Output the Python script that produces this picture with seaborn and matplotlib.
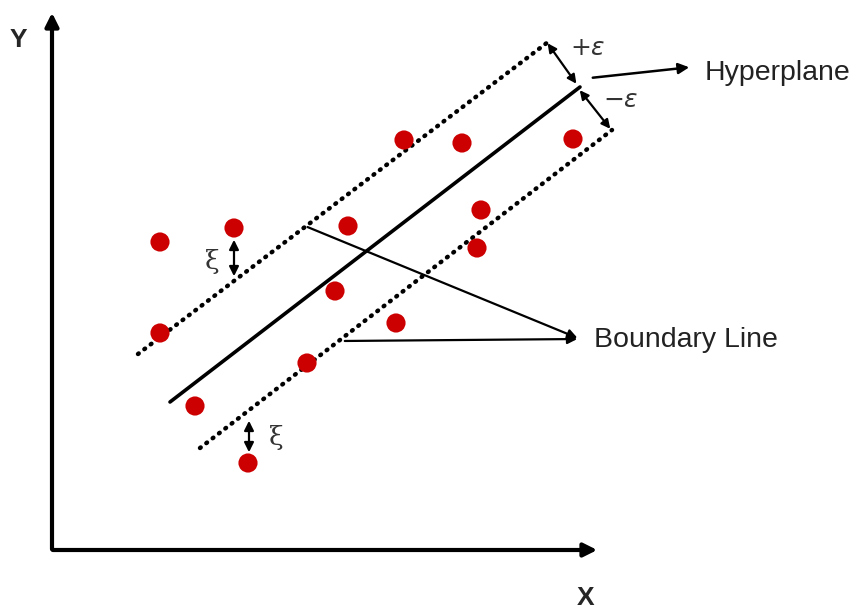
import numpy as np
import pandas as pd
import matplotlib
matplotlib.use('Agg')
import matplotlib.pyplot as plt
import seaborn as sns

# diagram laid out in pixel-like units (x right, y down)
pts_x = [160, 234, 160, 195, 248, 307, 335, 348, 396, 404, 462, 481, 477, 573]
pts_y = [242, 228, 333, 406, 463, 363, 291, 226, 323, 140, 143, 210, 248, 139]

hyper_x = [170, 580]
hyper_y = [402, 87]
upper_x = [138, 548]
upper_y = [354, 42]
lower_x = [200, 612]
lower_y = [448, 130]

sns.set_style('white')
plt.rcParams['font.family'] = ['Liberation Sans', 'DejaVu Sans']

fig = plt.figure(figsize=(8.53, 6.15), dpi=100)
ax = fig.add_axes([0, 0, 1, 1])

# axes arrows
ax.annotate('', xy=(52, 10), xytext=(52, 552),
            arrowprops=dict(arrowstyle='-|>', lw=3, color='black', mutation_scale=20))
ax.annotate('', xy=(600, 550), xytext=(50, 550),
            arrowprops=dict(arrowstyle='-|>', lw=3, color='black', mutation_scale=20))
ax.text(18, 40, 'Y', fontsize=19, fontweight='bold', ha='center', va='center')
ax.text(586, 598, 'X', fontsize=19, fontweight='bold', ha='center', va='center')

# hyperplane and margins
sns.lineplot(x=hyper_x, y=hyper_y, ax=ax, color='black', lw=2.6, sort=False)
for lx, ly in [(upper_x, upper_y), (lower_x, lower_y)]:
    ax.plot(lx, ly, color='black', lw=3.2, linestyle=(0, (0.2, 1.6)),
            dash_capstyle='round')

# epsilon arrows
ax.annotate('', xy=(546, 41), xytext=(578, 86),
            arrowprops=dict(arrowstyle='<|-|>', lw=1.6, color='black', mutation_scale=13))
ax.annotate('', xy=(612, 131), xytext=(578, 88),
            arrowprops=dict(arrowstyle='<|-|>', lw=1.6, color='black', mutation_scale=13))
ax.text(570, 48, r'$+\varepsilon$', fontsize=18, color='#333333', va='center')
ax.text(603, 100, r'$-\varepsilon$', fontsize=18, color='#333333', va='center')

ax.annotate('', xy=(692, 67), xytext=(590, 78),
            arrowprops=dict(arrowstyle='-|>', lw=1.8, color='black', mutation_scale=16))
ax.text(705, 73, 'Hyperplane', fontsize=20.5, color='#222222', va='center')

# boundary line pointers
ax.annotate('', xy=(580, 339), xytext=(305, 226),
            arrowprops=dict(arrowstyle='-|>', lw=1.6, color='black', mutation_scale=14))
ax.annotate('', xy=(580, 339), xytext=(342, 341),
            arrowprops=dict(arrowstyle='-|>', lw=1.6, color='black', mutation_scale=14))
ax.text(594, 340, 'Boundary Line', fontsize=20.5, color='#222222', va='center')

# slack arrows
ax.annotate('', xy=(234, 237), xytext=(234, 279),
            arrowprops=dict(arrowstyle='<|-|>', lw=1.6, color='black', mutation_scale=14))
ax.text(212, 262, 'ξ', fontsize=19, color='#333333', ha='center', va='center',
        family='DejaVu Serif')
ax.annotate('', xy=(249, 418), xytext=(249, 455),
            arrowprops=dict(arrowstyle='<|-|>', lw=1.6, color='black', mutation_scale=14))
ax.text(276, 437, 'ξ', fontsize=19, color='#333333', ha='center', va='center',
        family='DejaVu Serif')

# data points
df = pd.DataFrame({'x': pts_x, 'y': pts_y})
sns.scatterplot(data=df, x='x', y='y', ax=ax, s=190, color='#cc0000',
                edgecolor='none', zorder=5)
ax.set_xlim(0, 853)
ax.set_ylim(615, 0)
ax.axis('off')

fig.savefig('out.png', dpi=100)
